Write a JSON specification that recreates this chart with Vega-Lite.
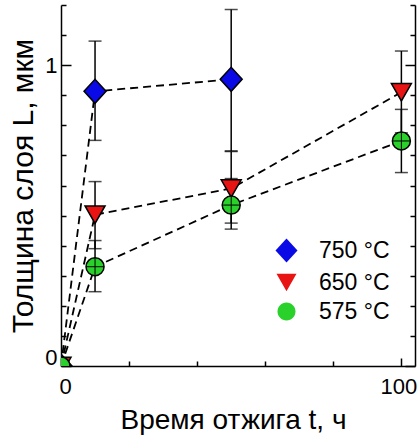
{
  "$schema": "https://vega.github.io/schema/vega-lite/v6.json",
  "autosize": "none",
  "width": 354,
  "height": 361,
  "padding": {"left": 61, "top": 5, "right": 3, "bottom": 71},
  "background": "white",
  "config": {
    "view": {"stroke": null},
    "axis": {
      "domainColor": "black", "domainWidth": 1.5, "tickColor": "black", "tickWidth": 1.5,
      "labelFont": "Liberation Sans", "labelFontSize": 22, "labelColor": "black",
      "titleFont": "Liberation Sans", "titleFontWeight": "normal", "titleColor": "black",
      "grid": false
    }
  },
  "data": {
    "values": [
      {"T": "750 °C", "t": 0, "L": 0, "lo": null, "hi": null},
      {"T": "750 °C", "t": 10, "L": 0.913, "lo": 0.75, "hi": 1.08},
      {"T": "750 °C", "t": 50, "L": 0.953, "lo": 0.715, "hi": 1.185},
      {"T": "650 °C", "t": 0, "L": 0, "lo": null, "hi": null},
      {"T": "650 °C", "t": 10, "L": 0.503, "lo": 0.39, "hi": 0.613},
      {"T": "650 °C", "t": 50, "L": 0.59, "lo": 0.475, "hi": 0.713},
      {"T": "650 °C", "t": 100, "L": 0.91, "lo": 0.775, "hi": 1.047},
      {"T": "575 °C", "t": 0, "L": 0, "lo": null, "hi": null},
      {"T": "575 °C", "t": 10, "L": 0.33, "lo": 0.247, "hi": 0.417},
      {"T": "575 °C", "t": 50, "L": 0.535, "lo": 0.455, "hi": 0.623},
      {"T": "575 °C", "t": 100, "L": 0.748, "lo": 0.643, "hi": 0.853}
    ]
  },
  "resolve": {"axis": {"y": "independent"}},
  "layer": [
    {
      "mark": {"type": "line", "color": "black", "strokeWidth": 1.8, "strokeDash": [8, 5], "clip": true},
      "encoding": {
        "x": {"field": "t", "type": "quantitative", "scale": {"domain": [0, 104], "nice": false, "zero": false},
          "axis": {"title": "Время отжига t, ч", "titleFontSize": 28, "titleX": 172, "values": [0,10,20,30,40,50,60,70,80,90,100],
            "labelExpr": "datum.value % 50 === 0 ? datum.label : ''",
            "labelOffset": {"condition": [{"test": "datum.value === 0", "value": 4}, {"test": "datum.value === 100", "value": -3}], "value": 0},
            "tickSize": {"condition": {"test": "datum.value % 50 === 0", "value": -8}, "value": -5},
            "labelPadding": 18, "titlePadding": 9, "labelFlush": false}},
        "y": {"field": "L", "type": "quantitative", "scale": {"domain": [0, 1.2], "nice": false},
          "axis": {"title": "Толщина слоя L, мкм", "titleFontSize": 30, "values": [0,0.1,0.2,0.3,0.4,0.5,0.6,0.7,0.8,0.9,1,1.1,1.2],
            "labelExpr": "datum.value === 0 ? '0' : abs(datum.value - 1) < 0.001 ? '1' : ''",
            "labelOffset": {"condition": {"test": "datum.value === 0", "value": -9}, "value": 0},
            "tickSize": {"condition": {"test": "datum.value === 0 || abs(datum.value - 1) < 0.001", "value": -10}, "value": -5},
            "labelPadding": 14, "titlePadding": 6, "labelFlush": false}},
        "detail": {"field": "T"},
        "order": {"field": "t"}
      }
    },
    {
      "transform": [{"filter": "datum.lo != null"}],
      "mark": {"type": "rule", "color": "black", "strokeWidth": 1.5},
      "encoding": {
        "x": {"field": "t", "type": "quantitative"},
        "y": {"field": "lo", "type": "quantitative",
          "axis": {"orient": "right", "title": null, "labels": false, "values": [0,0.1,0.2,0.3,0.4,0.5,0.6,0.7,0.8,0.9,1,1.1,1.2],
            "tickSize": {"condition": {"test": "datum.value === 0 || abs(datum.value - 1) < 0.001", "value": -10}, "value": -5}}},
        "y2": {"field": "hi"}
      }
    },
    {
      "transform": [{"filter": "datum.lo != null"}],
      "mark": {"type": "tick", "color": "black", "orient": "horizontal", "size": 13, "thickness": 1.5},
      "encoding": {
        "x": {"field": "t", "type": "quantitative"},
        "y": {"field": "lo", "type": "quantitative", "axis": null}
      }
    },
    {
      "transform": [{"filter": "datum.lo != null"}],
      "mark": {"type": "tick", "color": "black", "orient": "horizontal", "size": 13, "thickness": 1.5},
      "encoding": {
        "x": {"field": "t", "type": "quantitative"},
        "y": {"field": "hi", "type": "quantitative", "axis": null}
      }
    },
    {
      "mark": {"type": "point", "filled": true, "opacity": 1, "stroke": "black", "strokeWidth": 1.5, "clip": true, "size": 400},
      "encoding": {
        "x": {"field": "t", "type": "quantitative"},
        "y": {"field": "L", "type": "quantitative", "axis": null},
        "shape": {"field": "T", "type": "nominal",
          "scale": {"domain": ["750 °C", "650 °C", "575 °C"],
            "range": ["M-1.1,0L0,-1.2L1.1,0L0,1.2Z", "M-1,-0.87L1,-0.87L0,0.87Z", "M-0.9,0A0.9,0.9,0,1,1,0.9,0A0.9,0.9,0,1,1,-0.9,0Z"]},
          "legend": {"title": null, "orient": "none", "legendX": 214, "legendY": 234,
            "labelFont": "Liberation Sans", "labelFontSize": 23, "labelColor": "black",
            "labelOffset": 21, "rowPadding": 4, "symbolSize": 400,
            "symbolStrokeColor": "black", "symbolStrokeWidth": 1.5}},
        "fill": {"field": "T", "type": "nominal",
          "scale": {"domain": ["750 °C", "650 °C", "575 °C"], "range": ["#0a0ae6", "#e81414", "#2ad12a"]}}
      }
    },
    {
      "transform": [{"filter": "datum.T === '575 °C' && datum.t > 0"}],
      "mark": {"type": "point", "shape": "M-0.9,0H0.9M0,-0.9V0.9", "filled": false, "stroke": "black", "strokeWidth": 1, "size": 400, "opacity": 1},
      "encoding": {
        "x": {"field": "t", "type": "quantitative"},
        "y": {"field": "L", "type": "quantitative", "axis": null}
      }
    }
  ]
}
